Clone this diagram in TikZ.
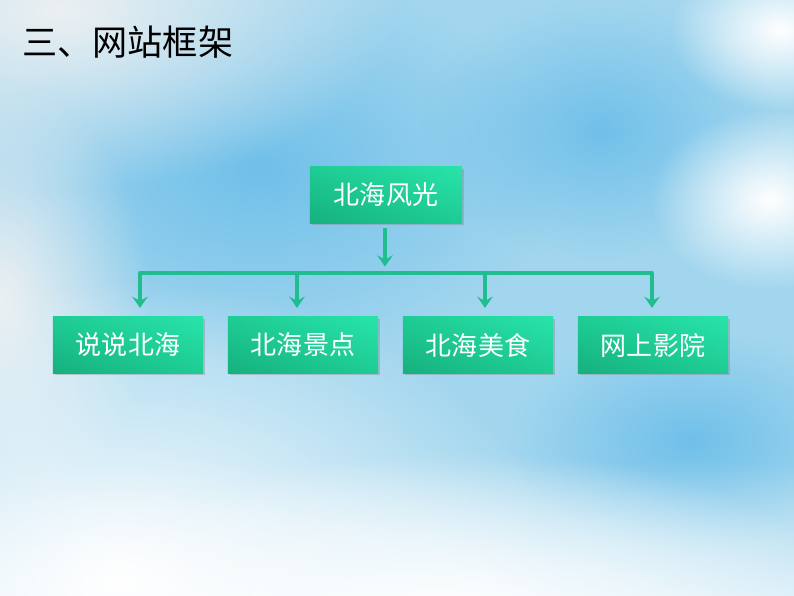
\documentclass[tikz,border=0pt]{standalone}
\usepackage{fontspec}
\newfontfamily\cjk{Noto Sans CJK SC}
\usetikzlibrary{arrows.meta,shadows,shadings,fadings}
\definecolor{skyblue}{RGB}{162,214,238}
\definecolor{deepsky}{RGB}{112,192,234}
\definecolor{paper}{RGB}{236,240,242}
\definecolor{boxdark}{RGB}{22,176,126}
\definecolor{boxmid}{RGB}{30,204,148}
\definecolor{boxlight}{RGB}{40,228,170}
\definecolor{linkgreen}{RGB}{32,190,142}
\tikzfading[name=softblob,inner color=transparent!0,outer color=transparent!100]
\begin{document}
\begin{tikzpicture}[x=0.025cm,y=-0.025cm,
    box/.style={minimum width=3.75cm,minimum height=1.4cm,inner sep=0pt,
      lower left=boxdark,upper right=boxlight,upper left=boxmid,lower right=boxmid,
      drop shadow={shadow xshift=0.05cm,shadow yshift=-0.06cm,opacity=0.35},
      text=white,font=\cjk\fontsize{18.5}{20}\selectfont},
    blob/.style={path fading=softblob},
    link/.style={draw=linkgreen,line width=2.6pt},
    arrow/.style={link,-{Stealth[length=8pt,width=11pt,inset=3pt]}}]
  % sky
  \useasboundingbox (0,0) rectangle (794,596);
  \fill[skyblue] (0,0) rectangle (794,596);
  \begin{scope}
    \clip (0,0) rectangle (794,596);
    \fill[deepsky,blob] (260,170) ellipse (300 and 190);
    \fill[deepsky,blob] (600,130) ellipse (180 and 130);
    \fill[deepsky,blob] (690,440) ellipse (180 and 110);
    \fill[paper,blob] (60,10) ellipse (340 and 180);
    \fill[paper,blob] (0,300) ellipse (150 and 220);
    \fill[white,blob] (120,580) ellipse (440 and 300);
    \fill[white,blob] (460,620) ellipse (400 and 170);
    \fill[white,blob] (770,200) ellipse (120 and 90);
    \fill[white,blob] (780,30) ellipse (110 and 80);
    \fill[white,opacity=0.6,path fading=north] (0,460) rectangle (794,596);
  \end{scope}
  % title
  \node[anchor=west,inner sep=0pt,font=\cjk\fontsize{25}{28}\selectfont] (title) at (22,42) {三、网站框架};
  % boxes
  \node[box,minimum width=3.8cm] (root) at (386,195) {北海风光};
  \node[box] (intro) at (128,345) {说说北海};
  \node[box] (sight) at (303,345) {北海景点};
  \node[box] (food) at (478,345) {北海美食};
  \node[box] (movie) at (653,345) {网上影院};
  % connectors
  \coordinate (bus) at (385,273);
  \coordinate (b1) at (140,273);
  \coordinate (b2) at (297,273);
  \coordinate (b3) at (485,273);
  \coordinate (b4) at (652,273);
  \draw[arrow,shorten >=0.16cm] ([xshift=-0.025cm,yshift=-0.12cm]root.south) -- (bus);
  \draw[link,line cap=round] (b1) -- (b4);
  \draw[arrow,shorten >=0.22cm] (b1) -- (b1 |- intro.north);
  \draw[arrow,shorten >=0.22cm] (b2) -- (b2 |- sight.north);
  \draw[arrow,shorten >=0.22cm] (b3) -- (b3 |- food.north);
  \draw[arrow,shorten >=0.22cm] (b4) -- (b4 |- movie.north);
\end{tikzpicture}
\end{document}
